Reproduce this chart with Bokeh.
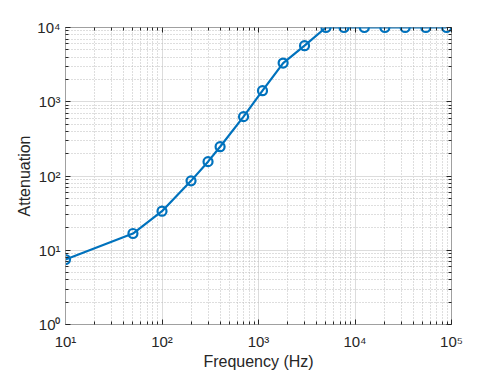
from bokeh.plotting import figure
from bokeh.models import FixedTicker, LogAxis, Range1d, CustomJSTickFormatter
from bokeh.embed import file_html
from bokeh.resources import INLINE

freq_hz = [10, 50, 100, 200, 300, 400, 700, 1100, 1800, 3000, 5000, 7700,
           12500, 20400, 33100, 54200, 89000]
attenuation = [7.5, 16.8, 33.6, 86, 156, 248, 630, 1410, 3320, 5690, 10000,
               10000, 10000, 10000, 10000, 10000, 10000]
x_decades = [10, 100, 1000, 10000, 100000]
y_decades = [1, 10, 100, 1000, 10000]
SUP = {0: "\u2070", 1: "\u00b9", 2: "\u00b2", 3: "\u00b3", 4: "\u2074", 5: "\u2075"}

TXT = "#262626"
FONT = "Liberation Sans"

def minors(decades):
    out = []
    for d in decades[:-1]:
        for k in range(2, 10):
            out.append(k * d)
    return out

def labels(decades):
    res = {}
    for d in decades:
        e = len(str(d)) - 1
        res[d] = "10" + SUP[e]
    return res

p = figure(width=490, height=372, x_axis_type="log", y_axis_type="log",
           x_range=Range1d(x_decades[0], x_decades[-1]),
           y_range=Range1d(y_decades[0], y_decades[-1]),
           output_backend="svg", toolbar_location=None,
           min_border_left=65, min_border_top=27, min_border_right=39,
           min_border_bottom=42)
p.outline_line_color = "#a0a0a0"
p.outline_line_width = 1
p.background_fill_color = "white"
p.border_fill_color = "white"

xt = FixedTicker(ticks=x_decades, minor_ticks=minors(x_decades))
yt = FixedTicker(ticks=y_decades, minor_ticks=minors(y_decades))
p.xaxis.ticker = xt
p.yaxis.ticker = yt
p.xgrid.ticker = xt
p.ygrid.ticker = yt

p.xaxis.formatter = CustomJSTickFormatter(code="return String(tick);")
p.yaxis.formatter = CustomJSTickFormatter(code="return String(tick);")
p.xaxis.major_label_overrides = labels(x_decades)
p.yaxis.major_label_overrides = labels(y_decades)

for g in (p.xgrid[0], p.ygrid[0]):
    g.grid_line_color = "#dcdcdc"
    g.grid_line_width = 1
    g.minor_grid_line_color = "#bdbdbd"
    g.minor_grid_line_dash = "1 2"
    g.minor_grid_line_width = 1

for ax in (p.xaxis[0], p.yaxis[0]):
    ax.axis_line_color = "#a0a0a0"
    ax.major_tick_in = 5
    ax.major_tick_out = 0
    ax.minor_tick_in = 3
    ax.minor_tick_out = 0
    ax.major_tick_line_color = TXT
    ax.minor_tick_line_color = TXT
    ax.major_label_text_font = FONT
    ax.major_label_text_font_size = "15px"
    ax.major_label_text_color = TXT
    ax.axis_label_text_font = FONT
    ax.axis_label_text_font_size = "16px"
    ax.axis_label_text_font_style = "normal"
    ax.axis_label_text_color = TXT

p.xaxis.axis_label = "Frequency (Hz)"
p.yaxis.axis_label = "Attenuation"
p.xaxis.major_label_standoff = 8
p.yaxis.major_label_standoff = 5
p.xaxis.axis_label_standoff = 0
p.yaxis.axis_label_standoff = 1

# box ticks on top and right
blank = "return '';"
top = LogAxis(ticker=xt, formatter=CustomJSTickFormatter(code=blank),
              major_tick_in=5, major_tick_out=0, minor_tick_in=3,
              minor_tick_out=0, axis_line_color=None, major_label_standoff=0,
              major_tick_line_color=TXT, minor_tick_line_color=TXT)
right = LogAxis(ticker=yt, formatter=CustomJSTickFormatter(code=blank),
                major_tick_in=5, major_tick_out=0, minor_tick_in=3,
                minor_tick_out=0, axis_line_color=None, major_label_standoff=0,
                major_tick_line_color=TXT, minor_tick_line_color=TXT)
p.add_layout(top, "above")
p.add_layout(right, "right")

p.line(freq_hz, attenuation, line_color="#0072BD", line_width=2.2)
p.scatter(freq_hz, attenuation, marker="circle", size=9,
          line_color="#0072BD", line_width=2.2, fill_alpha=0)

open("out.html", "w").write(file_html(p, INLINE))
